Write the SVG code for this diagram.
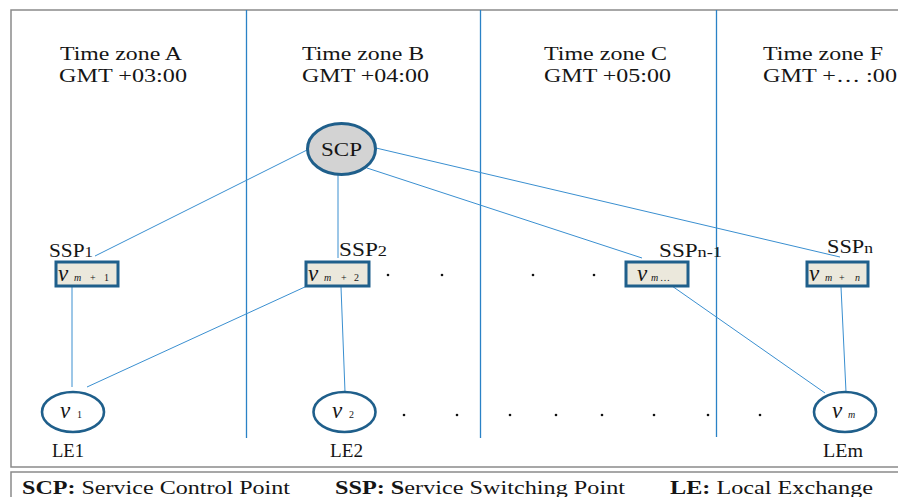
<svg xmlns="http://www.w3.org/2000/svg" width="898" height="497" viewBox="0 0 898 497">
<style>
text{font-family:"Liberation Serif","Times New Roman",serif;fill:#151515}
.tz{font-size:19px}
.lbl{font-size:19px}
.leg{font-size:19px}
.b{font-weight:bold}
.zone{stroke:#2a82c6;stroke-width:1.3;fill:none}
.con{stroke:#3a8fd0;stroke-width:1;fill:none}
.box{fill:#ebe8dc;stroke:#1f5f8b;stroke-width:3}
.le{fill:#fff;stroke:#1f5f8b;stroke-width:2.6}
.scp{fill:#d3d3d3;stroke:#1f5f8b;stroke-width:3}
.v{font-style:italic;font-size:23px}
.s{font-style:italic;font-size:10px}
.n{font-size:10px}
.dot{fill:#111}
</style>
<rect x="0" y="0" width="898" height="497" fill="#fff"/>
<rect x="11" y="10" width="900" height="457" fill="none" stroke="#8a8a8a" stroke-width="1.5"/>
<rect x="11" y="472" width="900" height="40" fill="none" stroke="#8a8a8a" stroke-width="1.5"/>
<g id="zones">
<line class="zone" x1="246.5" y1="10" x2="246.5" y2="438"/>
<line class="zone" x1="480.5" y1="10" x2="480.5" y2="438"/>
<line class="zone" x1="716.5" y1="10" x2="716.5" y2="437"/>
<text class="tz" x="60" y="60" textLength="122" lengthAdjust="spacingAndGlyphs">Time zone A</text>
<text class="tz" x="59" y="82" textLength="128" lengthAdjust="spacingAndGlyphs">GMT +03:00</text>
<text class="tz" x="302" y="60" textLength="122" lengthAdjust="spacingAndGlyphs">Time zone B</text>
<text class="tz" x="302" y="82" textLength="127" lengthAdjust="spacingAndGlyphs">GMT +04:00</text>
<text class="tz" x="544" y="60" textLength="123" lengthAdjust="spacingAndGlyphs">Time zone C</text>
<text class="tz" x="544" y="82" textLength="127" lengthAdjust="spacingAndGlyphs">GMT +05:00</text>
<text class="tz" x="763" y="60" textLength="120" lengthAdjust="spacingAndGlyphs">Time zone F</text>
<text class="tz" x="763" y="82" textLength="134" lengthAdjust="spacingAndGlyphs">GMT +… :00</text>
</g>
<g id="connectors">
<line class="con" x1="307" y1="150" x2="95" y2="256"/>
<line class="con" x1="338" y1="175" x2="338" y2="258"/>
<line class="con" x1="367" y1="168" x2="642" y2="258"/>
<line class="con" x1="376" y1="148" x2="840" y2="257"/>
<line class="con" x1="72" y1="287" x2="72" y2="387"/>
<line class="con" x1="307" y1="286" x2="87" y2="387"/>
<line class="con" x1="341" y1="287" x2="345" y2="392"/>
<line class="con" x1="672" y1="286" x2="825" y2="393"/>
<line class="con" x1="841" y1="287" x2="846" y2="392"/>
</g>
<g id="SCP">
<ellipse class="scp" cx="341.5" cy="149" rx="34" ry="25.5"/>
<text x="321" y="156" font-size="19" textLength="41" lengthAdjust="spacingAndGlyphs">SCP</text>
</g>
<g id="SSP1">
<text class="lbl" x="49" y="257" textLength="44" lengthAdjust="spacingAndGlyphs">SSP<tspan font-size="15">1</tspan></text>
<rect class="box" x="56" y="262" width="62" height="24"/>
<text class="v" x="58" y="281">v</text><text class="s" x="74" y="281">m</text><text class="n" x="90" y="281">+</text><text class="n" x="104" y="281">1</text>
</g>
<g id="SSP2">
<text class="lbl" x="339" y="256" textLength="48" lengthAdjust="spacingAndGlyphs">SSP<tspan font-size="15">2</tspan></text>
<rect class="box" x="306" y="262" width="63" height="24"/>
<text class="v" x="308" y="281">v</text><text class="s" x="324" y="281">m</text><text class="n" x="341" y="281">+</text><text class="n" x="354" y="281">2</text>
</g>
<g id="SSPn-1">
<text class="lbl" x="659" y="257" textLength="63" lengthAdjust="spacingAndGlyphs">SSP<tspan font-size="15">n-1</tspan></text>
<rect class="box" x="626" y="262" width="62" height="24"/>
<text class="v" x="637" y="281">v</text><text class="s" x="651" y="281">m</text><text class="n" x="660" y="281">…</text>
</g>
<g id="SSPn">
<text class="lbl" x="827" y="253" textLength="46" lengthAdjust="spacingAndGlyphs">SSP<tspan font-size="15">n</tspan></text>
<rect class="box" x="807" y="262" width="61" height="24"/>
<text class="v" x="809" y="281">v</text><text class="s" x="825" y="281">m</text><text class="n" x="839" y="281">+</text><text class="s" x="855" y="281">n</text>
</g>
<g id="LE1">
<ellipse class="le" cx="73" cy="412" rx="31" ry="20"/>
<text class="v" x="60" y="418">v</text><text class="n" x="77" y="418">1</text>
<text class="lbl" x="52" y="457" textLength="32" lengthAdjust="spacingAndGlyphs">LE1</text>
</g>
<g id="LE2">
<ellipse class="le" cx="344.5" cy="412" rx="31" ry="20"/>
<text class="v" x="332" y="418">v</text><text class="n" x="349" y="418">2</text>
<text class="lbl" x="330" y="457" textLength="33" lengthAdjust="spacingAndGlyphs">LE2</text>
</g>
<g id="LEm">
<ellipse class="le" cx="845" cy="412" rx="31" ry="20"/>
<text class="v" x="832" y="418">v</text><text class="s" x="848" y="418" font-size="8">m</text>
<text class="lbl" x="823" y="457" textLength="40" lengthAdjust="spacingAndGlyphs">LEm</text>
</g>
<g id="dots">
<circle class="dot" cx="388" cy="275" r="1.3"/>
<circle class="dot" cx="442" cy="275" r="1.3"/>
<circle class="dot" cx="533" cy="275" r="1.3"/>
<circle class="dot" cx="594" cy="275" r="1.3"/>
<circle class="dot" cx="404" cy="415" r="1.3"/>
<circle class="dot" cx="457" cy="415" r="1.3"/>
<circle class="dot" cx="510" cy="415" r="1.3"/>
<circle class="dot" cx="556" cy="415" r="1.3"/>
<circle class="dot" cx="602" cy="415" r="1.3"/>
<circle class="dot" cx="654" cy="415" r="1.3"/>
<circle class="dot" cx="708" cy="415" r="1.3"/>
<circle class="dot" cx="760" cy="415" r="1.3"/>
</g>
<g id="legend">
<text class="leg" x="22" y="494" textLength="268" lengthAdjust="spacingAndGlyphs"><tspan class="b">SCP:</tspan> Service Control Point</text>
<text class="leg" x="335" y="494" textLength="290" lengthAdjust="spacingAndGlyphs"><tspan class="b">SSP: S</tspan>ervice Switching Point</text>
<text class="leg" x="670" y="494" textLength="203" lengthAdjust="spacingAndGlyphs"><tspan class="b">LE:</tspan> Local Exchange</text>
</g>
</svg>
